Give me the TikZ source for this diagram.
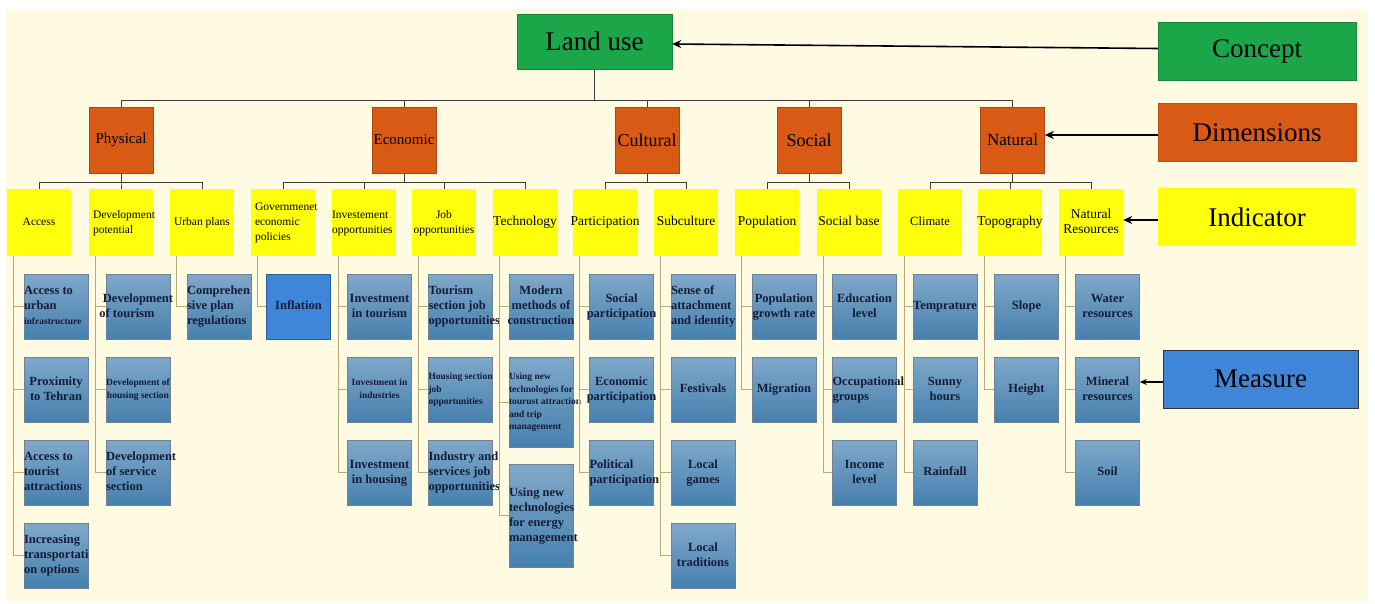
\documentclass[tikz,border=0pt]{standalone}
\usepackage{fontspec}
\setmainfont{Liberation Serif}
\usetikzlibrary{arrows.meta,calc}
\definecolor{cream}{RGB}{255,250,226}
\definecolor{landgreen}{RGB}{28,166,74}
\definecolor{dimorange}{RGB}{216,90,20}
\definecolor{dimborder}{RGB}{170,70,20}
\definecolor{indyellow}{RGB}{255,255,12}
\definecolor{meastop}{RGB}{128,168,202}
\definecolor{measbot}{RGB}{70,128,174}
\definecolor{measborder}{RGB}{110,130,145}
\definecolor{meastext}{RGB}{20,28,55}
\definecolor{bluebox}{RGB}{64,134,216}
\definecolor{buscol}{RGB}{60,60,60}
\definecolor{conncol}{RGB}{185,170,120}
\newcommand\mybranch[2]{\foreach \m in {#2}{\draw[conn] ($(#1.south west)+(7,0)$) |- (\m.west);}}
\newcommand\mybus[2]{\foreach \c in {#2}{\draw[bus] (#1.south) -- ++(0,9) -| (\c.north);}}
\newcommand\mcx[1]{\makebox[64pt][c]{\begin{tabular}{@{}c@{}}#1\end{tabular}}}
\newcommand\mlx[1]{\makebox[64pt][l]{\begin{tabular}{@{}l@{}}#1\end{tabular}}}
\newcommand\ilx[1]{\makebox[64pt][l]{\hspace*{4pt}\begin{tabular}{@{}l@{}}#1\end{tabular}}}
\begin{document}
\begin{tikzpicture}[x=1pt,y=-1pt,
  big/.style={minimum width=198pt, minimum height=58pt, inner sep=0pt, font=\fontsize{27}{30}\selectfont},
  dimbox/.style={fill=dimorange, draw=dimborder, line width=0.6pt, minimum width=64pt, minimum height=66pt, inner sep=0pt},
  ind/.style={fill=indyellow, minimum width=64pt, minimum height=67pt, inner sep=0pt, font=\fontsize{13.5}{15}\selectfont},
  indsm/.style={ind, font=\fontsize{11.5}{15}\selectfont},
  meas/.style={draw=measborder, line width=0.6pt, top color=meastop, bottom color=measbot, minimum width=64pt, minimum height=65pt, inner sep=0pt, text=meastext, font=\bfseries\fontsize{12.5}{15}\selectfont},
  small/.style={font=\bfseries\fontsize{9.5}{12.5}\selectfont},
  conn/.style={draw=conncol, line width=1pt},
  bus/.style={draw=buscol, line width=0.9pt},
  arr/.style={draw=black, line width=1.6pt, -{Stealth[length=9pt,width=8pt]}}
]
\useasboundingbox (0,0) rectangle (1375,603);
\fill[white] (0,0) rectangle (1375,603);
\fill[cream] (6,9) rectangle (1368,601);

% concept
\node[big, fill=landgreen, draw=landgreen!80!black, minimum width=155pt, minimum height=55pt] (land) at (594.5,41.5) {Land use};

% dimensions
\node[dimbox, font=\fontsize{15}{17}\selectfont] (phys) at (121,140) {Physical};
\node[dimbox, font=\fontsize{15}{17}\selectfont] (econ) at (404,140) {Economic};
\node[dimbox, font=\fontsize{18}{20}\selectfont] (cult) at (647,140) {Cultural};
\node[dimbox, font=\fontsize{18}{20}\selectfont] (soc) at (809,140) {Social};
\node[dimbox, font=\fontsize{17}{20}\selectfont] (nat) at (1012.5,140) {Natural};

% indicators
\node[indsm] (acc) at (39,222.5) {\mcx{Access}};
\node[indsm] (dev) at (121,222.5) {\ilx{Development\\ potential}};
\node[indsm] (urb) at (202,222.5) {\mcx{Urban plans}};
\node[indsm] (gov) at (283,222.5) {\ilx{Governmenet\\ economic\\ policies}};
\node[indsm] (inv) at (364,222.5) {\mlx{Investement\\ opportunities}};
\node[indsm] (job) at (444,222.5) {\mcx{Job\\ opportunities}};
\node[ind] (tec) at (525,222.5) {\mcx{Technology}};
\node[ind] (par) at (605,222.5) {\mcx{Participation}};
\node[ind] (sub) at (686,222.5) {\mcx{Subculture}};
\node[ind] (pop) at (767,222.5) {\mcx{Population}};
\node[ind] (sba) at (849,222.5) {\mcx{Social base}};
\node[ind, font=\fontsize{12.5}{15}\selectfont] (cli) at (930,222.5) {\mcx{Climate}};
\node[ind] (top) at (1010,222.5) {\mcx{Topography}};
\node[ind] (nre) at (1091,222.5) {\mcx{Natural\\ Resources}};

% measures
\node[meas] (a1) at (56,306.5) {\mlx{Access to\\ urban\\ {\fontsize{9.5}{12}\selectfont infrastructure}}};
\node[meas] (a2) at (56,389.5) {\mcx{Proximity\\ to Tehran}};
\node[meas] (a3) at (56,472.5) {\mlx{Access to\\ tourist\\ attractions}};
\node[meas] (a4) at (56,555.5) {\mlx{Increasing\\ transportati\\ on options}};

\node[meas] (d1) at (138,306.5) {\mcx{Development\\ of tourism\hspace*{22pt}}};
\node[meas, small] (d2) at (138,389.5) {\mcx{Development of\\ housing section}};
\node[meas] (d3) at (138,472.5) {\mlx{Development\\ of service\\ section}};

\node[meas] (u1) at (219,306.5) {\mlx{Comprehen\\ sive plan\\ regulations}};

\node[meas, top color=bluebox, bottom color=bluebox, draw=bluebox!70!black] (g1) at (298.5,306.5) {\mcx{Inflation}};

\node[meas] (i1) at (379.5,306.5) {\mcx{Investment\\ in tourism}};
\node[meas, small] (i2) at (379.5,389.5) {\mcx{Investment in\\ industries}};
\node[meas] (i3) at (379.5,472.5) {\mcx{Investment\\ in housing}};

\node[meas] (j1) at (460.5,306.5) {\mlx{Tourism\\ section job\\ opportunities}};
\node[meas, small] (j2) at (460.5,389.5) {\mlx{Housing section\\ job\\ opportunities}};
\node[meas] (j3) at (460.5,472.5) {\mlx{Industry and\\ services job\\ opportunities}};

\node[meas] (t1) at (541,306.5) {\mcx{Modern\\ methods of\\ construction}};
\node[meas, small, minimum height=90pt] (t2) at (541,402) {\mlx{Using new\\ technologies for\\ tourust attraction\\ and trip\\ management}};
\node[meas, minimum height=103pt] (t3) at (541,515.5) {\mlx{Using new\\ technologies\\ for energy\\ management}};

\node[meas] (p1) at (621.5,306.5) {\mcx{Social\\ participation}};
\node[meas] (p2) at (621.5,389.5) {\mcx{Economic\\ participation}};
\node[meas] (p3) at (621.5,472.5) {\mlx{Political\\ participation}};

\node[meas] (s1) at (703,306.5) {\mlx{Sense of\\ attachment\\ and identity}};
\node[meas] (s2) at (703,389.5) {\mcx{Festivals}};
\node[meas] (s3) at (703,472.5) {\mcx{Local\\ games}};
\node[meas] (s4) at (703,555.5) {\mcx{Local\\ traditions}};

\node[meas] (po1) at (784,306.5) {\mcx{Population\\ growth rate}};
\node[meas] (po2) at (784,389.5) {\mcx{Migration}};

\node[meas] (sb1) at (864.5,306.5) {\mcx{Education\\ level}};
\node[meas] (sb2) at (864.5,389.5) {\mlx{Occupational\\ groups}};
\node[meas] (sb3) at (864.5,472.5) {\mcx{Income\\ level}};

\node[meas] (c1) at (945,306.5) {\mcx{Temprature}};
\node[meas] (c2) at (945,389.5) {\mcx{Sunny\\ hours}};
\node[meas] (c3) at (945,472.5) {\mcx{Rainfall}};

\node[meas] (to1) at (1026.5,306.5) {\mcx{Slope}};
\node[meas] (to2) at (1026.5,389.5) {\mcx{Height}};

\node[meas] (n1) at (1107.5,306.5) {\mcx{Water\\ resources}};
\node[meas] (n2) at (1107.5,389.5) {\mcx{Mineral\\ resources}};
\node[meas] (n3) at (1107.5,472.5) {\mcx{Soil}};

% legend
\node[big, fill=landgreen, draw=landgreen!80!black] (concept) at (1257,51.5) {Concept};
\node[big, fill=dimorange, draw=dimorange!90!black] (dimlbl) at (1257,132.5) {Dimensions};
\node[big, fill=indyellow] (indlbl) at (1257,217) {Indicator};
\node[big, fill=bluebox, draw=black!80, line width=0.8pt, minimum width=195pt] (measlbl) at (1260.5,379) {Measure};

% connectors: concept -> dimensions
\foreach \c in {phys,econ,cult,soc,nat}{\draw[bus] (land.south) -- ++(0,31) -| (\c.north);}
% dimensions -> indicators
\mybus{phys}{acc,dev,urb}
\mybus{econ}{gov,inv,job,tec}
\mybus{cult}{par,sub}
\mybus{soc}{pop,sba}
\mybus{nat}{cli,top,nre}
% indicators -> measures
\mybranch{acc}{a1,a2,a3,a4}
\mybranch{dev}{d1,d2,d3}
\mybranch{urb}{u1}
\mybranch{gov}{g1}
\mybranch{inv}{i1,i2,i3}
\mybranch{job}{j1,j2,j3}
\mybranch{tec}{t1,t2,t3}
\mybranch{par}{p1,p2,p3}
\mybranch{sub}{s1,s2,s3,s4}
\mybranch{pop}{po1,po2}
\mybranch{sba}{sb1,sb2,sb3}
\mybranch{cli}{c1,c2,c3}
\mybranch{top}{to1,to2}
\mybranch{nre}{n1,n2,n3}

% legend arrows
\draw[arr] ($(concept.west)+(0,-3)$) -- ($(land.east)+(0,2.5)$);
\draw[arr] ($(dimlbl.west)+(0,2.5)$) -- ($(nat.east)+(0,-5)$);
\draw[arr] ($(indlbl.west)+(0,3)$) -- ($(nre.east)+(0,-2.5)$);
\draw[arr, line width=1.2pt, -{Stealth[length=7pt,width=6pt]}] ($(measlbl.west)+(0,3)$) -- ($(n2.east)+(0,-7.5)$);
\end{tikzpicture}
\end{document}
